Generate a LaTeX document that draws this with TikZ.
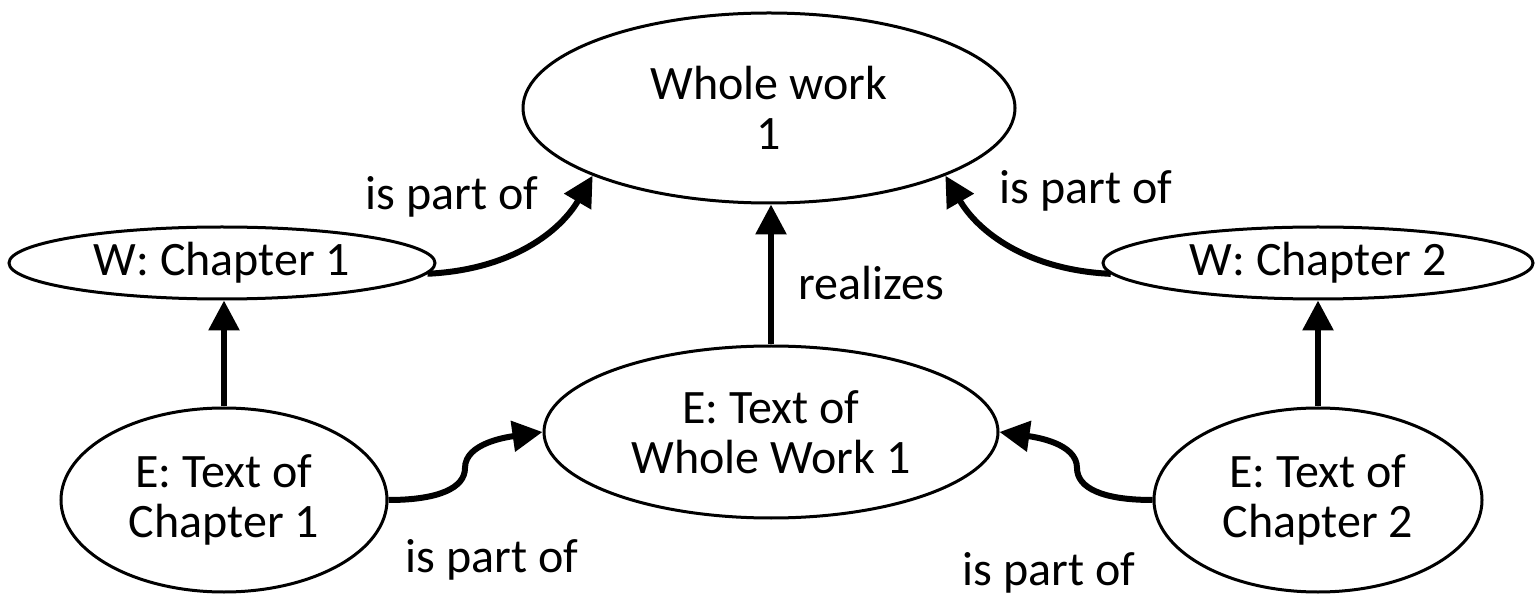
\documentclass[tikz,border=0pt]{standalone}
\usepackage{fontspec}
\setmainfont{Carlito}
\usetikzlibrary{shapes.geometric,arrows.meta}
\begin{document}
\begin{tikzpicture}[x=0.5pt,y=-0.5pt,
  ell/.style={ellipse,draw,line width=1.5pt,inner sep=0pt,align=center,font=\fontsize{24}{25}\selectfont},
  arr/.style={line width=3pt,-{Triangle[length=15pt,width=15pt]}},
  lbl/.style={font=\fontsize{24}{25}\selectfont}]
\useasboundingbox (0,0) rectangle (1536,598);
\node[ell,minimum width=246pt,minimum height=95pt] (whole) at (769,108) {Whole work\\1};
\node[ell,minimum width=213pt,minimum height=36pt] (w1) at (222,263) {W: Chapter 1};
\node[ell,minimum width=215pt,minimum height=36pt] (w2) at (1318,263) {W: Chapter 2};
\node[ell,minimum width=227pt,minimum height=86pt] (ew) at (771,432) {E: Text of\\Whole Work 1};
\node[ell,minimum width=163pt,minimum height=92pt] (e1) at (224,500) {E: Text of\\Chapter 1};
\node[ell,minimum width=164pt,minimum height=92pt] (e2) at (1318,500) {E: Text of\\Chapter 2};
\coordinate (k1) at (465,468);
\coordinate (k2) at (1077,468);
\draw[arr] (e1.north) -- (e1.north |- w1.south);
\draw[arr] (e2.north) -- (e2.north |- w2.south);
\draw[arr] (ew.north) -- (ew.north |- whole.south);
\draw[arr] (w1.-3) .. controls +(85,-4) and +(-32,55) .. (whole.201.5);
\draw[arr] (w2.183) .. controls +(-85,-4) and +(32,55) .. (whole.-21.5);
\draw[arr] (e1.east) .. controls +(50,0) and +(0,20) .. (k1) .. controls +(0,-25) and +(-35,5) .. (ew.west);
\draw[arr] (e2.west) .. controls +(-50,0) and +(0,20) .. (k2) .. controls +(0,-25) and +(35,5) .. (ew.east);
\node[lbl] (l1) at (452,197) {is part of};
\node[lbl] (l2) at (1086,191) {is part of};
\node[lbl] (l3) at (871,283) {realizes};
\node[lbl] (l4) at (492,560) {is part of};
\node[lbl] (l5) at (1049,573) {is part of};
\end{tikzpicture}
\end{document}
